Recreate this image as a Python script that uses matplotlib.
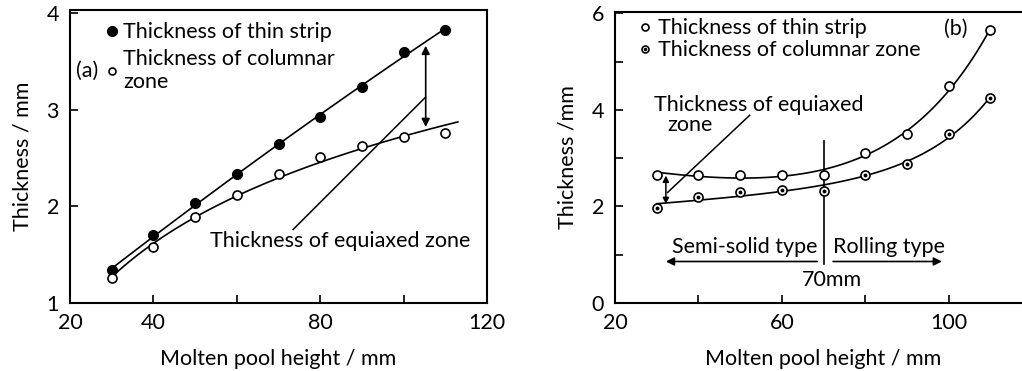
import numpy as np
import matplotlib
matplotlib.use('Agg')
import matplotlib.pyplot as plt
from matplotlib.lines import Line2D

plt.rcParams['font.family'] = ['Lato', 'DejaVu Sans']
plt.rcParams['font.size'] = 15.5

# panel (a)
xa = [30, 40, 50, 60, 70, 80, 90, 100, 110]
strip_a = [1.34, 1.70, 2.03, 2.33, 2.64, 2.92, 3.23, 3.60, 3.82]
column_a = [1.26, 1.58, 1.89, 2.12, 2.33, 2.51, 2.62, 2.72, 2.76]

# panel (b)
xb = [30, 40, 50, 60, 70, 80, 90, 100, 110]
strip_b = [2.66, 2.66, 2.65, 2.66, 2.65, 3.10, 3.50, 4.49, 5.65]
column_b = [1.97, 2.19, 2.31, 2.34, 2.33, 2.66, 2.88, 3.50, 4.25]

fig = plt.figure(figsize=(10.22, 3.71), dpi=100)
ax1 = fig.add_axes([70/1022, 68/371, 417/1022, 293/371])
ax2 = fig.add_axes([615/1022, 68/371, 417/1022, 291/371])


def style(ax):
    for s in ax.spines.values():
        s.set_linewidth(1.5)
    ax.tick_params(direction='in', length=6, width=1.2, pad=7, labelsize=15.5)
    ax.tick_params(axis='y', pad=8)
    ax.set_xlabel('Molten pool height / mm', fontsize=15.5, labelpad=12)


def exp_fit(x, y, xs):
    # smooth curve: a + d*x + b*exp(c*x), best c picked by least squares
    x = np.asarray(x, float)
    y = np.asarray(y, float)
    best = None
    for c in np.linspace(0.02, 0.15, 131):
        A = np.column_stack([np.ones_like(x), x, np.exp(c * x)])
        coef, res, *_ = np.linalg.lstsq(A, y, rcond=None)
        err = np.sum((A @ coef - y) ** 2)
        if best is None or err < best[0]:
            best = (err, c, coef)
    _, c, coef = best
    return coef[0] + coef[1] * xs + coef[2] * np.exp(c * xs)


# ---- (a)
ax = ax1
style(ax)
xs = np.linspace(30, 110, 100)
ax.plot(xs, np.polyval(np.polyfit(xa, strip_a, 2), xs), 'k-', lw=1.2)
xs2 = np.linspace(30, 113, 100)
p = np.polyfit(np.log(xa), column_a, 1)
ax.plot(xs2, np.polyval(p, np.log(xs2)), 'k-', lw=1.2)
ax.plot(xa, strip_a, 'o', color='k', ms=7, zorder=3)
ax.plot(xa, column_a, 'o', mfc='white', mec='k', mew=1.2, ms=6.5, zorder=3)
ax.set_xlim(20, 120)
ax.set_ylim(1, 4.03)
ax.set_xticks([20, 40, 60, 80, 100, 120])
ax.set_xticklabels(['20', '40', '', '80', '', '120'])
ax.set_yticks([1, 2, 3, 4])
ax.set_ylabel('Thickness / mm', fontsize=15.5, labelpad=10)
ax.annotate('', xy=(105.3, 3.66), xytext=(105.3, 2.82),
            arrowprops=dict(arrowstyle='<|-|>', color='k', lw=1.2,
                            mutation_scale=12, shrinkA=0, shrinkB=0))
ax.plot([73.5, 105.3], [1.76, 3.13], 'k-', lw=1.1)
ax.text(53.5, 1.64, 'Thickness of equiaxed zone', va='center', ha='left')
ax.text(24, 3.4, '(a)', va='center', ha='center')
h1 = Line2D([], [], ls='', marker='o', color='k', ms=7)
h2 = Line2D([], [], ls='', marker='o', mfc='white', mec='k', mew=1.2, ms=5)
ax.legend([h1, h2], ['Thickness of thin strip', 'Thickness of columnar\nzone'],
          loc='upper left', bbox_to_anchor=(0.05, 1.01), frameon=False,
          handlelength=0.6, handletextpad=0.2, labelspacing=0.3,
          borderaxespad=0.3, fontsize=15.5)

# ---- (b)
ax = ax2
style(ax)
ax.spines['right'].set_visible(False)
xs = np.linspace(30, 110, 100)
ax.plot(xs, exp_fit(xb, strip_b, xs), 'k-', lw=1.2)
ax.plot(xs, exp_fit(xb, column_b, xs), 'k-', lw=1.2)
ax.plot(xb, strip_b, 'o', mfc='white', mec='k', mew=1.2, ms=6.5, zorder=3)
ax.plot(xb, column_b, 'o', mfc='white', mec='k', mew=1.2, ms=6.5, zorder=3)
ax.plot(xb, column_b, 'o', color='k', ms=1.8, zorder=4)
ax.set_xlim(20, 120)
ax.set_ylim(0, 6.03)
ax.set_xticks([20, 40, 60, 80, 100])
ax.set_xticklabels(['20', '', '60', '', '100'])
ax.set_yticks([0, 1, 2, 3, 4, 5, 6])
ax.set_yticklabels(['0', '', '2', '', '4', '', '6'])
ax.set_ylabel('Thickness /mm', fontsize=15.5, labelpad=10)
ax.plot([70, 70], [0.80, 3.36], 'k-', lw=1.2)
ax.text(72, 0.47, '70mm', ha='center', va='center')
ax.text(68.5, 1.17, 'Semi-solid type', ha='right', va='center')
ax.text(72.2, 1.17, 'Rolling type', ha='left', va='center')
ax.annotate('', xy=(32.2, 0.86), xytext=(68.5, 0.86),
            arrowprops=dict(arrowstyle='-|>', color='k', lw=1.2,
                            mutation_scale=12, shrinkA=0, shrinkB=0))
ax.annotate('', xy=(98.4, 0.86), xytext=(72.3, 0.86),
            arrowprops=dict(arrowstyle='-|>', color='k', lw=1.2,
                            mutation_scale=12, shrinkA=0, shrinkB=0))
ax.annotate('', xy=(32.2, 2.64), xytext=(32.2, 2.05),
            arrowprops=dict(arrowstyle='<|-|>', color='k', lw=1.1,
                            mutation_scale=9, shrinkA=0, shrinkB=0))
ax.plot([32.6, 52.3], [2.29, 3.89], 'k-', lw=1.1)
ax.text(29.4, 4.1, 'Thickness of equiaxed', ha='left', va='center')
ax.text(32.6, 3.69, 'zone', ha='left', va='center')
ax.text(101.6, 5.69, '(b)', ha='center', va='center')
g1 = Line2D([], [], ls='', marker='o', mfc='white', mec='k', mew=1.2, ms=5)
g2o = Line2D([], [], ls='', marker='o', mfc='white', mec='k', mew=1.2, ms=5)
g2d = Line2D([], [], ls='', marker='o', color='k', ms=1.5)
ax.legend([g1, (g2o, g2d)], ['Thickness of thin strip', 'Thickness of columnar zone'],
          loc='upper left', bbox_to_anchor=(0.02, 1.03), frameon=False,
          handlelength=0.6, handletextpad=0.3, labelspacing=0.1,
          borderaxespad=0.3, fontsize=15.5)

fig.savefig('out.png', dpi=100)
